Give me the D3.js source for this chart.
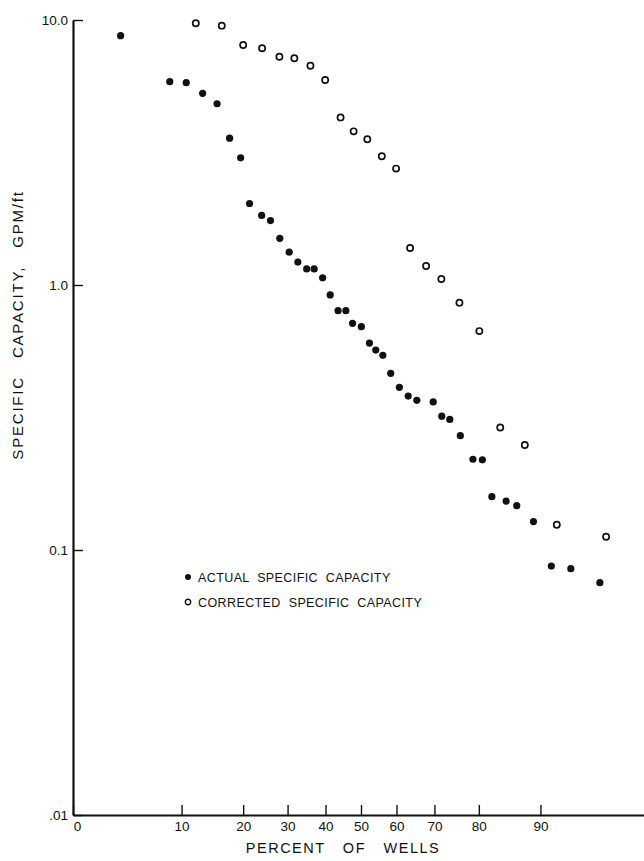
<!DOCTYPE html>
<html>
<head>
<meta charset="utf-8">
<script src="https://cdn.jsdelivr.net/npm/d3@7/dist/d3.min.js"></script>
<style>
  body { margin: 0; background: #fff; }
  text { font-family: "Liberation Sans", Arial, sans-serif; fill: #111; }
</style>
</head>
<body>
<svg id="chart" width="644" height="861"></svg>
<script>
// percent of wells (probability axis) and specific capacity, gpm/ft
var actualPct = [4.3, 8.6, 10.6, 12.9, 15.2, 17.4, 19.5, 21.3, 23.9, 25.9,
                 28.1, 30.4, 32.6, 34.9, 36.9, 39.2, 41.3, 43.5, 45.7, 47.6,
                 50.1, 52.4, 54.2, 56.2, 58.4, 60.8, 63.2, 65.5, 69.7, 71.8,
                 73.7, 76.1, 78.8, 80.7, 82.5, 85.0, 86.7, 89.1, 91.3, 93.3, 95.6];
var actualVal = [8.73, 5.85, 5.80, 5.29, 4.83, 3.58, 3.02, 2.03, 1.83, 1.75,
                 1.50, 1.33, 1.22, 1.15, 1.15, 1.065, 0.917, 0.80, 0.80, 0.717,
                 0.696, 0.604, 0.568, 0.543, 0.464, 0.411, 0.381, 0.367, 0.362, 0.320,
                 0.311, 0.270, 0.220, 0.219, 0.159, 0.153, 0.147, 0.128, 0.087, 0.085, 0.0753];

var correctedPct = [11.9, 16.0, 20.0, 24.0, 28.0, 31.7, 35.9, 39.9, 44.2, 47.9, 51.8,
                    55.9, 59.9, 63.7, 67.9, 71.7, 75.9, 80.1, 84.0, 87.9, 91.9, 96.0];
var correctedVal = [9.72, 9.52, 8.05, 7.82, 7.27, 7.17, 6.72, 5.94, 4.29, 3.80, 3.55,
                    3.06, 2.75, 1.38, 1.18, 1.054, 0.858, 0.67, 0.29, 0.249, 0.1246, 0.1122];

var xTickVals = [10, 20, 30, 40, 50, 60, 70, 80, 90];
var yTickVals = [0.01, 0.1, 1, 10];
var yTickLabels = [".01", "0.1", "1.0", "10.0"];
var legendLabels = ["ACTUAL SPECIFIC CAPACITY", "CORRECTED SPECIFIC CAPACITY"];

// inverse normal cdf (Acklam) for probability paper
function probit(p) {
    var a = [-39.69683028665376, 220.9460984245205, -275.9285104469687, 138.3577518672690, -30.66479806614716, 2.506628277459239];
    var b = [-54.47609879822406, 161.5858368580409, -155.6989798598866, 66.80131188771972, -13.28068155288572];
    var c = [-0.007784894002430293, -0.3223964580411365, -2.400758277161838, -2.549732539343734, 4.374664141464968, 2.938163982698783];
    var d = [0.007784695709041462, 0.3224671290700398, 2.445134137142996, 3.754408661907416];
    var pl = 0.02425, q, r;
    if (p < pl) {
        q = Math.sqrt(-2 * Math.log(p));
        return (((((c[0]*q+c[1])*q+c[2])*q+c[3])*q+c[4])*q+c[5]) / ((((d[0]*q+d[1])*q+d[2])*q+d[3])*q+1);
    }
    if (p > 1 - pl) {
        q = Math.sqrt(-2 * Math.log(1 - p));
        return -(((((c[0]*q+c[1])*q+c[2])*q+c[3])*q+c[4])*q+c[5]) / ((((d[0]*q+d[1])*q+d[2])*q+d[3])*q+1);
    }
    q = p - 0.5; r = q * q;
    return (((((a[0]*r+a[1])*r+a[2])*r+a[3])*r+a[4])*r+a[5])*q / (((((b[0]*r+b[1])*r+b[2])*r+b[3])*r+b[4])*r+1);
}

var $svg = d3.select("#chart");
// plot edges (note: "top" is taken by window, so prefix these)
var plotLeft = 73, plotTop = 20, plotBottom = 815;
var zMin = -2.057, zMax = 2.057;

var xz = d3.scaleLinear().domain([zMin, zMax]).range([plotLeft, 649]);
var x = function(p) { return xz(probit(p / 100)); };
var y = d3.scaleLog().domain([0.01, 10]).range([plotBottom, plotTop]);

// x axis (probability), "0" sits at the left end
var xLabels = ["0"].concat(xTickVals.map(String));
var $xAxis = $svg.append("g")
    .attr("transform", `translate(0 ${plotBottom})`)
    .call(d3.axisBottom(xz)
        .tickValues([zMin].concat(xTickVals.map(function(p) { return probit(p / 100); })))
        .tickFormat(function(d, i) { return xLabels[i]; })
        .tickSizeInner(-10).tickSizeOuter(0).tickPadding(6));
$xAxis.select(".domain").attr("stroke", "#111").attr("stroke-width", 2.2);
$xAxis.selectAll(".tick line").attr("stroke", "#111").attr("stroke-width", 1.4);
$xAxis.selectAll("text").attr("font-size", 13.5).style("font-family", '"Liberation Sans", Arial, sans-serif');
// the "0" is lettered a little to the right of the corner
$xAxis.selectAll("text").filter(function(d, i) { return i === 0; }).attr("dx", 4);

var $yAxis = $svg.append("g")
    .attr("transform", `translate(${plotLeft} 0)`)
    .call(d3.axisLeft(y)
        .tickValues(yTickVals)
        .tickFormat(function(d, i) { return yTickLabels[i]; })
        .tickSizeInner(-10).tickSizeOuter(0).tickPadding(5));
$yAxis.select(".domain").attr("stroke", "#111").attr("stroke-width", 2.2);
$yAxis.selectAll(".tick line").attr("stroke", "#111").attr("stroke-width", 1.4);
$yAxis.selectAll("text").attr("font-size", 13.5).style("font-family", '"Liberation Sans", Arial, sans-serif');

// axis titles
$svg.append("text")
    .attr("x", 343).attr("y", 853)
    .attr("text-anchor", "middle")
    .attr("font-size", 14.5)
    .attr("letter-spacing", 1.5)
    .attr("word-spacing", 12)
    .text("PERCENT OF WELLS");

$svg.append("text")
    .attr("transform", "translate(23 325) rotate(-90)")
    .attr("text-anchor", "middle")
    .attr("font-size", 15)
    .attr("letter-spacing", 1.8)
    .attr("word-spacing", 12)
    .text("SPECIFIC CAPACITY, GPM/ft");

// points
var actual = actualPct.map(function(p, i) { return {p: p, v: actualVal[i]}; });
var corrected = correctedPct.map(function(p, i) { return {p: p, v: correctedVal[i]}; });

$svg.append("g").selectAll("circle").data(corrected).join("circle")
    .attr("cx", function(d) { return x(d.p); })
    .attr("cy", function(d) { return y(d.v); })
    .attr("r", 3.1)
    .attr("fill", "#fff")
    .attr("stroke", "#111")
    .attr("stroke-width", 1.7);

$svg.append("g").selectAll("circle").data(actual).join("circle")
    .attr("cx", function(d) { return x(d.p); })
    .attr("cy", function(d) { return y(d.v); })
    .attr("r", 3.6)
    .attr("fill", "#111");

// legend
var $legend = $svg.append("g").attr("transform", "translate(188 577)");
legendLabels.forEach(function(lab, i) {
    var $row = $legend.append("g").attr("transform", `translate(0 ${i * 25})`);
    $row.append("circle")
        .attr("r", i ? 2.7 : 3)
        .attr("fill", i ? "#fff" : "#111")
        .attr("stroke", i ? "#111" : "none")
        .attr("stroke-width", 1.4);
    $row.append("text")
        .attr("x", 10).attr("dy", "0.36em")
        .attr("font-size", 12.5)
        .attr("letter-spacing", 0.4)
        .attr("word-spacing", 4)
        .text(lab);
});
</script>
</body>
</html>
